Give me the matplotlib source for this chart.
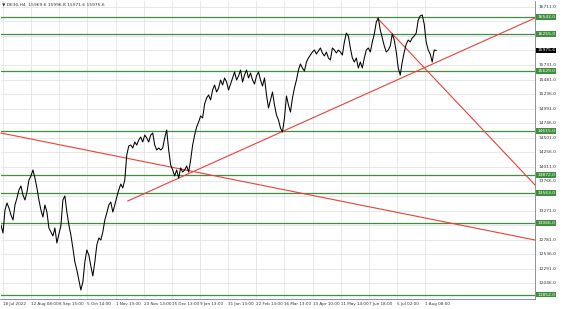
import matplotlib
matplotlib.use("Agg")
import matplotlib.pyplot as plt
import matplotlib.transforms as mtransforms

# ---------------- data ----------------
symbol = "DE30,H4"
ohlc_last = ["15969.6", "15996.8", "15971.6", "15975.6"]

close = [
    13026, 12891, 13280, 13398, 13314, 13195, 13111, 13364, 13483, 13618,
    13686, 13533, 13449, 13584, 13787, 13855, 13956, 13821, 13652, 13449,
    13280, 13162, 13364, 13246, 12976, 12908, 12841, 12976, 12722, 12874,
    13010, 13449, 13517, 13246, 13026, 12857, 12638, 12401, 12266, 12097,
    11928, 12063, 12401, 12604, 12519, 12334, 12165, 12401, 12688, 12807,
    12773, 12908, 13111, 13229, 13364, 13415, 13246, 13364, 13500, 13618,
    13719, 13652, 13787, 14209, 14362, 14378, 14328, 14429, 14378, 14463,
    14514, 14429, 14547, 14497, 14429, 14547, 14581, 14378, 14294, 14328,
    14294, 14328, 14497, 14632, 14294, 14040, 13956, 13855, 13956, 13821,
    13990, 13922, 13956, 14024, 13922, 14125, 14378, 14547, 14683, 14767,
    14869, 14835, 15071, 15173, 15223, 15139, 15308, 15392, 15274, 15342,
    15477, 15392, 15511, 15443, 15308, 15409, 15511, 15612, 15477, 15545,
    15646, 15443, 15561, 15646, 15511, 15595, 15477, 15409, 15545, 15612,
    15477, 15376, 15511, 15223, 15004, 15139, 15274, 15054, 14885, 14801,
    14666, 14598, 14835, 15207, 15054, 14936, 15173, 15342, 15477, 15646,
    15747, 15680, 15629, 15781, 15849, 15899, 15950, 15984, 15916, 15967,
    16018, 15933, 15883, 15950, 15849, 15815, 16018, 15984, 15933, 15984,
    15950, 15899, 16119, 16271, 16221, 16018, 15849, 15781, 15849, 15680,
    15781, 15680, 15849, 15984, 16018, 15950, 16119, 16254, 16457, 16525,
    16322, 16187, 16052, 15950, 15984, 16052, 16254, 16153, 15950, 15680,
    15561, 15781, 15950, 16085, 16153, 16119, 16187, 16221, 16271, 16491,
    16559, 16576, 16423, 16119, 15984, 15916, 15781, 15984, 15976,
]
current_price = 15975.6

date_labels = ["18 Jul 2022", "12 Aug 08:00", "8 Sep 15:00", "5 Oct 14:00",
               "1 Nov 13:00", "23 Nov 13:00", "15 Dec 13:00", "9 Jan 13:00",
               "31 Jan 13:00", "22 Feb 13:00", "16 Mar 13:00", "13 Apr 10:00",
               "11 May 14:00", "7 Jun 18:00", "5 Jul 02:00", "1 Aug 08:00"]

price_labels = [16711.0, 16466.0, 16221.0, 15976.0, 15731.0, 15481.0, 15236.0,
                14991.0, 14746.0, 14501.0, 14256.0, 14011.0, 13766.0, 13521.0,
                13271.0, 13026.0, 12781.0, 12536.0, 12291.0, 12046.0]

levels = [16542.0, 16255.0, 15629.0, 14615.0, 13872.0, 13563.0, 13066.0, 11852.0]

# trend lines: (bar index, price) endpoints
trend_down_long = [(0.0, 14581.0), (267.5, 12773.0)]
trend_up = [(63.5, 13432.0), (267.5, 16525.0)]
trend_down_short = [(188.5, 16525.0), (267.5, 13703.0)]

# ---------------- figure ----------------
W, H = 564, 309
fig = plt.figure(figsize=(W / 100, H / 100), dpi=100)
ax = fig.add_axes([1 / W, 10 / H, 534 / W, 298 / H])
ax.set_xlim(0, 267.5)
ax.set_ylim(11776, 16812)

grid_c = "#e4e4e4"
for p in price_labels:
    ax.axhline(p, color=grid_c, lw=0.6, zorder=0)
xt = [1 + 14.1 * k for k in range(len(date_labels))]
for x in xt:
    ax.axvline(x, color=grid_c, lw=0.6, zorder=0)

green = "#3f8f3f"
for lv in levels:
    ax.axhline(lv, color=green, lw=0.9, zorder=2)

red = "#e8403a"
for seg in (trend_down_long, trend_up, trend_down_short):
    ax.plot([seg[0][0], seg[1][0]], [seg[0][1], seg[1][1]], color=red, lw=0.8,
            zorder=3, clip_on=False)

ax.plot(range(len(close)), close, color="black", lw=0.75, zorder=4)

# axes styling
for s in ["top", "left", "bottom"]:
    ax.spines[s].set_visible(False)
ax.spines["right"].set_color("#808080")
ax.spines["right"].set_linewidth(0.6)
ax.set_xticks([])
ax.set_yticks([])
fig.add_artist(plt.Line2D([0, 535 / W], [10 / H, 10 / H], color="#808080", lw=0.6))

# pixel scale for hiding axis labels covered by the price boxes
px_per_price = 298 / (16812 - 11776)
marks = levels + [current_price]

trans = mtransforms.blended_transform_factory(ax.transAxes, ax.transData)
for p in price_labels:
    if min(abs(p - m) for m in marks) * px_per_price < 4.5:
        continue
    ax.text(1.006, p, f"{p:.1f}", transform=trans, fontsize=3.2, color="#333333",
            va="center", ha="left", clip_on=False)

for lv in levels:
    ax.text(1.004, lv, f"{lv:.1f}", transform=trans, fontsize=3.2, color="white",
            va="center", ha="left", clip_on=False,
            bbox=dict(boxstyle="square,pad=0.2", fc=green, ec="none"), zorder=6)
ax.text(1.004, current_price, f"{current_price:.1f}", transform=trans, fontsize=3.2,
        color="white", va="center", ha="left", clip_on=False,
        bbox=dict(boxstyle="square,pad=0.2", fc="black", ec="none"), zorder=6)

transx = mtransforms.blended_transform_factory(ax.transData, fig.transFigure)
for x, lab in zip(xt, date_labels):
    ax.text(x, 5 / H, lab, transform=transx, fontsize=3.0, color="#333333",
            va="center", ha="left", clip_on=False)

fig.text(2 / W, 1 - 5 / H, "\u25BC " + symbol + "  " + " ".join(ohlc_last),
         fontsize=3.2, color="#333333", va="center", ha="left")

fig.savefig("out.png", dpi=100, facecolor="white")
